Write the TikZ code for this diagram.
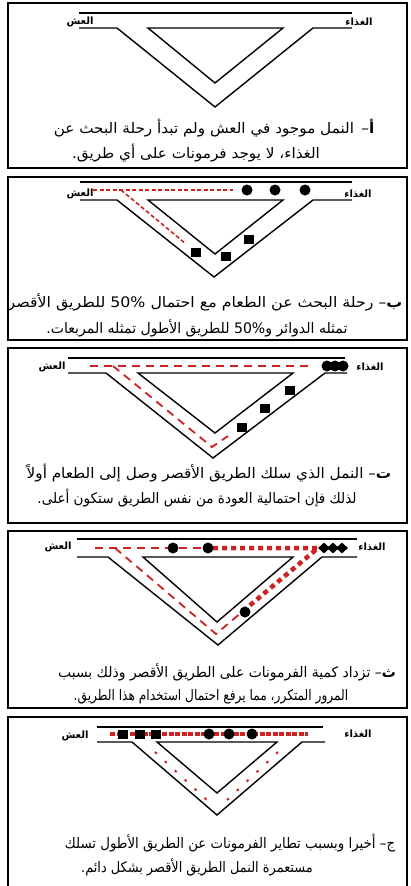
\documentclass[tikz,border=0pt]{standalone}
\usepackage{fontspec}
\usepackage{graphicx}
\usetikzlibrary{shapes.geometric}
\newfontfamily\arabicfont[Script=Arabic]{DejaVu Sans}
\TeXXeTstate=1
\definecolor{pher}{RGB}{205,35,35}
\newcommand\arline[2]{\scalebox{#1}[1]{#2}}
\begin{document}
\begin{tikzpicture}[x=1pt,y=-1pt,
  panel/.style={draw=black,line width=1.3pt},
  road/.style={draw=black,line width=1.4pt,line join=miter},
  lbl/.style={font=\arabicfont\bfseries\fontsize{10}{12}\selectfont,inner sep=0pt},
  captxt/.style={font=\arabicfont\fontsize{14.5}{17}\selectfont,inner sep=0pt},
  ant/.style={circle,fill=black,inner sep=0pt,minimum size=11pt},
  sq/.style={rectangle,fill=black,inner sep=0pt,minimum width=10pt,minimum height=9pt},
  dia/.style={diamond,fill=black,inner sep=0pt,minimum width=12pt,minimum height=11pt},
  phA/.style={draw=pher,line width=1.6pt,dash pattern=on 4pt off 2.5pt},
  phB/.style={draw=pher,line width=1.8pt,dash pattern=on 8pt off 6pt},
  phT/.style={draw=pher,line width=4.5pt,dash pattern=on 5pt off 4pt},
  phC/.style={draw=pher,line width=4pt,dash pattern=on 5pt off 1.5pt},
  phS/.style={draw=pher,line width=2pt,dash pattern=on 2.5pt off 11pt}]
\useasboundingbox (0,0) rectangle (410,886);
\fill[white] (0,0) rectangle (410,886);

% ---------- panels
\draw[panel] (8,3) rectangle (407,168);
\draw[panel] (8,177) rectangle (407,340);
\draw[panel] (8,348) rectangle (407,523);
\draw[panel] (8,531) rectangle (407,708);
\draw[panel] (8,717) rectangle (407,895);

% ---------- panel 1
\draw[road] (79,13) -- (352,13);
\draw[road] (79,28) -- (117,28) -- (215,107) -- (313,28) -- (352,28);
\draw[road] (148,28) -- (283,28) -- (215,83) -- cycle;
\node[lbl] (n1) at (80,22) {\beginR العش\endR};
\node[lbl] (f1) at (359,22) {\beginR الغذاء\endR};
\node[captxt] (c1a) at (214,128) {\arline{1.05}{\beginR{\bfseries أ}– \,النمل موجود في العش ولم تبدأ رحلة البحث عن\endR}};
\node[captxt] (c1b) at (196,153) {\arline{1.05}{\beginR الغذاء، لا يوجد فرمونات على أي طريق.\endR}};

% ---------- panel 2
\draw[road] (80,182) -- (352,182);
\draw[road] (80,200) -- (117,200) -- (214,277) -- (313,200) -- (352,200);
\draw[road] (148,200) -- (283,200) -- (215,254) -- cycle;
\draw[phA] (93,190) -- (233,190);
\draw[phA] (121,190) -- (186,244);
\node[lbl] (n2) at (80,194) {\beginR العش\endR};
\node[lbl] (f2) at (358,194) {\beginR الغذاء\endR};
\node[ant] (a21) at (247,190) {};
\node[ant] (a22) at (275,190) {};
\node[ant] (a23) at (305,190) {};
\node[sq] (s21) at (196,252) {};
\node[sq] (s22) at (226,256) {};
\node[sq] (s23) at (249,239) {};
\node[captxt] (c2a) at (205,302) {\arline{1.09}{\beginR{\bfseries ب}– رحلة البحث عن الطعام مع احتمال \beginL 50\%\endL{} للطريق الأقصر\endR}};
\node[captxt] (c2b) at (197,328) {\arline{0.97}{\beginR تمثله الدوائر و\beginL 50\%\endL{} للطريق الأطول تمثله المربعات.\endR}};

% ---------- panel 3
\draw[road] (68,358) -- (345,358);
\draw[road] (68,373) -- (106,373) -- (213,458) -- (325,373) -- (347,373);
\draw[road] (138,373) -- (293,373) -- (215,433) -- cycle;
\draw[phB] (90,366) -- (312,366);
\draw[phB] (113,366) -- (212,447) -- (228,436);
\node[lbl] (n3) at (52,367) {\beginR العش\endR};
\node[lbl] (f3) at (370,367) {\beginR الغذاء\endR};
\node[ant] (a31) at (327,366) {};
\node[ant] (a32) at (335,366) {};
\node[ant] (a33) at (343,366) {};
\node[sq] (s31) at (290,390) {};
\node[sq] (s32) at (265,408) {};
\node[sq] (s33) at (242,427) {};
\node[captxt] (c3a) at (209,473) {\arline{1.05}{\beginR{\bfseries ت}– النمل الذي سلك الطريق الأقصر وصل إلى الطعام أولاً\endR}};
\node[captxt] (c3b) at (197,498) {\arline{0.935}{\beginR لذلك فإن احتمالية العودة من نفس الطريق ستكون أعلى.\endR}};

% ---------- panel 4
\draw[road] (77,539) -- (357,539);
\draw[road] (77,557) -- (108,557) -- (218,645) -- (322,557) -- (357,557);
\draw[road] (143,557) -- (293,557) -- (217,622) -- cycle;
\draw[phB] (95,548) -- (213,548);
\draw[phB] (115,548) -- (216,634) -- (242,612);
\draw[phT] (213,548) -- (318,548) -- (242,612);
\node[lbl] (n4) at (58,547) {\beginR العش\endR};
\node[lbl] (f4) at (372,547) {\beginR الغذاء\endR};
\node[ant] (a41) at (173,548) {};
\node[ant] (a42) at (208,548) {};
\node[ant] (a43) at (245,612) {};
\node[dia] (d41) at (324,548) {};
\node[dia] (d42) at (333,548) {};
\node[dia] (d43) at (342,548) {};
\node[captxt] (c4a) at (227,672) {\arline{0.96}{\beginR{\bfseries ث}– تزداد كمية الفرمونات على الطريق الأقصر وذلك بسبب\endR}};
\node[captxt] (c4b) at (211,697) {\arline{0.84}{\beginR المرور المتكرر، مما يرفع احتمال استخدام هذا الطريق.\endR}};

% ---------- panel 5
\draw[road] (97,727) -- (323,727);
\draw[road] (97,742) -- (132,742) -- (217,815) -- (302,742) -- (325,742);
\draw[road] (157,742) -- (277,742) -- (217,793) -- cycle;
\draw[phC] (110,734) -- (308,734);
\draw[phS] (155,752) -- (209,802);
\draw[phS] (278,752) -- (225,802);
\node[lbl] (n5) at (75,736) {\beginR العش\endR};
\node[lbl] (f5) at (358,734) {\beginR الغذاء\endR};
\node[sq] (s51) at (123,734) {};
\node[sq] (s52) at (140,734) {};
\node[sq] (s53) at (156,734) {};
\node[ant] (a51) at (209,734) {};
\node[ant] (a52) at (229,734) {};
\node[ant] (a53) at (252,734) {};
\node[captxt] (c5a) at (230,843) {\arline{0.92}{\beginR ج– أخيرا وبسبب تطاير الفرمونات عن الطريق الأطول تسلك\endR}};
\node[captxt] (c5b) at (197,867) {\arline{0.89}{\beginR مستعمرة النمل الطريق الأقصر بشكل دائم.\endR}};
\end{tikzpicture}
\end{document}
